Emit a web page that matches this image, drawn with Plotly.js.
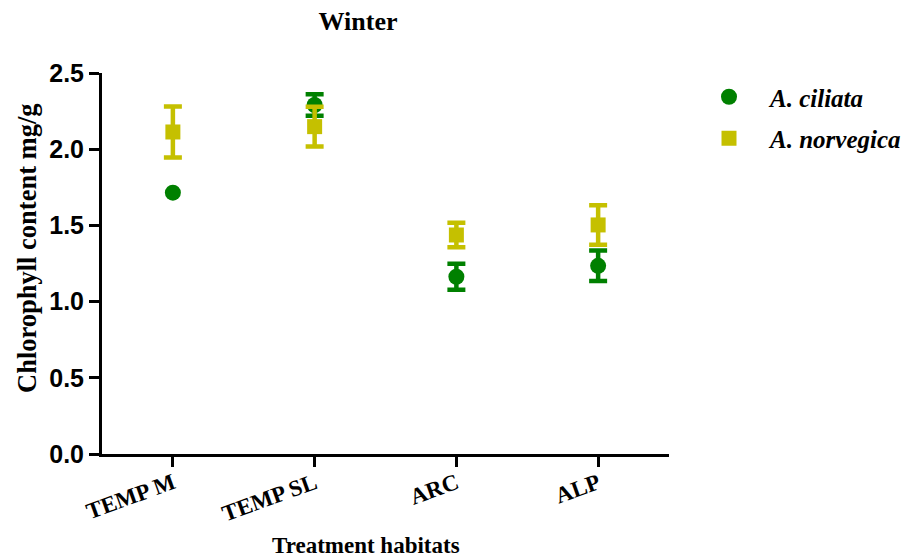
<!DOCTYPE html>
<html>
<head>
<meta charset="utf-8">
<script src="https://cdn.plot.ly/plotly-3.0.1.min.js"></script>
<style>html,body{margin:0;padding:0;background:#fff;}#chart{width:908px;height:558px;}</style>
</head>
<body>
<div id="chart"></div>
<script>
const categories = ['TEMP M', 'TEMP SL', 'ARC', 'ALP'];
const ciliataMean = [1.715, 2.29, 1.163, 1.235];
const ciliataErr = [NaN, 0.07, 0.085, 0.10];
const norvegicaMean = [2.113, 2.148, 1.437, 1.503];
const norvegicaErr = [0.168, 0.13, 0.08, 0.13];
const seriesNames = ['<b><i>A. ciliata</i></b>', '<b><i>A. norvegica</i></b>'];
const green = '#008000';
const yellow = '#c5c000';
const serif = 'Times New Roman, Liberation Serif, serif';

const traces = [
  {
    type: 'scatter', mode: 'markers', name: seriesNames[0], legendgroup: 'a',
    x: categories, y: ciliataMean,
    marker: {symbol: 'circle', size: 16, color: green},
    error_y: {type: 'data', array: ciliataErr, visible: true, color: green, thickness: 4.5, width: 9}
  },
  {
    type: 'scatter', mode: 'markers', name: seriesNames[1], legendgroup: 'b',
    x: categories, y: norvegicaMean,
    marker: {symbol: 'square', size: 15, color: yellow},
    error_y: {type: 'data', array: norvegicaErr, visible: true, color: yellow, thickness: 4.5, width: 9}
  }
];

const layout = {
  width: 908, height: 558,
  margin: {l: 102, r: 239, t: 73, b: 104, autoexpand: false},
  paper_bgcolor: '#fff', plot_bgcolor: '#fff',
  showlegend: true,
  title: {text: '<b>Winter</b>', x: 358/908, xanchor: 'center', y: 1 - 21/558, yanchor: 'middle',
          font: {family: serif, size: 26, color: '#000'}},
  xaxis: {
    type: 'category', range: [-0.5, 3.5],
    showline: true, linecolor: '#000', linewidth: 3,
    ticks: 'outside', ticklen: 10, tickwidth: 3, tickcolor: '#000',
    tickangle: -20, showgrid: false, zeroline: false, ticklabelstandoff: -6,
    tickfont: {family: serif, size: 23, color: '#000', weight: 'bold'}
  },
  yaxis: {
    range: [0, 2.5], dtick: 0.5, tickformat: '.1f',
    showline: true, linecolor: '#000', linewidth: 3,
    ticks: 'outside', ticklen: 10, tickwidth: 3, tickcolor: '#000',
    showgrid: false, zeroline: false,
    tickfont: {family: 'Arial, Liberation Sans, sans-serif', size: 25, color: '#000', weight: 'bold'}
  },
  annotations: [
    {text: '<b>Treatment habitats</b>', xref: 'paper', yref: 'paper',
     x: (366 - 102) / 567, y: -(545 - 454) / 381, xanchor: 'center', yanchor: 'middle',
     showarrow: false, font: {family: serif, size: 23, color: '#000'}},
    {text: '<b>Chlorophyll content mg/g</b>', xref: 'paper', yref: 'paper', textangle: -90,
     x: -(102 - 27) / 567, y: (454 - 248) / 381, xanchor: 'center', yanchor: 'middle',
     showarrow: false, font: {family: serif, size: 26.5, color: '#000'}}
  ],
  legend: {
    x: (688 - 102) / 567, xanchor: 'left', y: 1 + (73 - 74) / 381, yanchor: 'top',
    font: {family: serif, size: 25, color: '#000'},
    itemwidth: 72, tracegroupgap: 6, bgcolor: 'rgba(0,0,0,0)'
  }
};

Plotly.newPlot('chart', traces, layout, {displayModeBar: false, staticPlot: true});
</script>
</body>
</html>
